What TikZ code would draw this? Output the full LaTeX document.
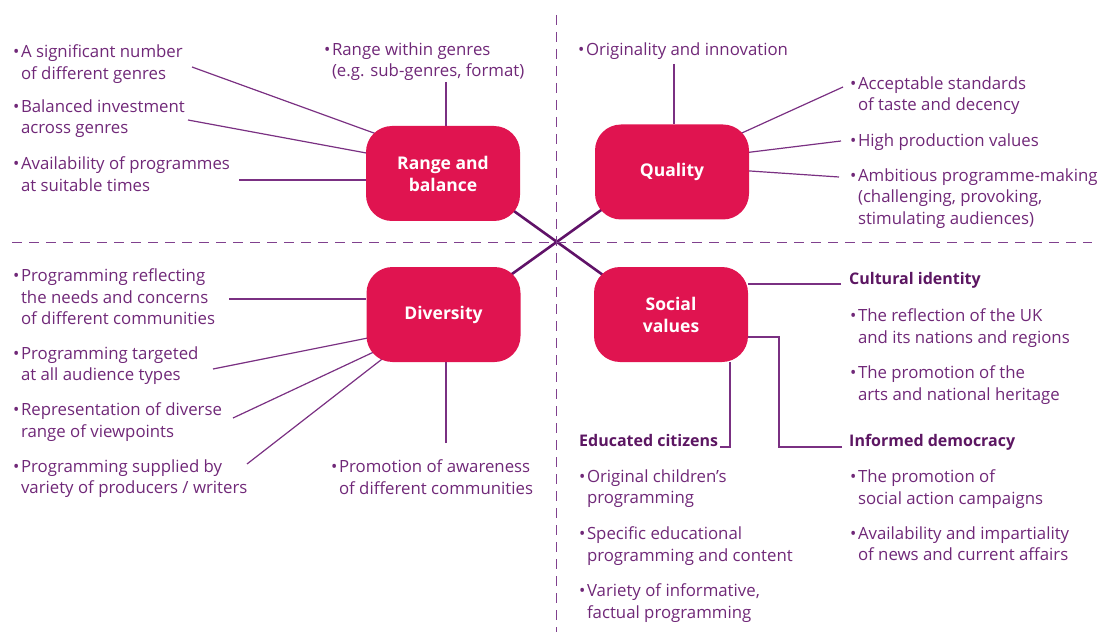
\documentclass[tikz,border=0pt]{standalone}
\usepackage{fontspec}
\setmainfont{Open Sans}
\usetikzlibrary{backgrounds}
\definecolor{boxRed}{RGB}{224,20,80}
\definecolor{textPurple}{RGB}{112,40,120}
\definecolor{headPurple}{RGB}{92,22,98}
\definecolor{linePurple}{RGB}{122,48,130}
\definecolor{crossPurple}{RGB}{96,18,104}
\definecolor{dashPurple}{RGB}{128,64,142}
\tikzstyle{diagram} = [x = 1pt, y = -1pt]
\tikzstyle{themeBox} = [fill=boxRed, rounded corners = 26pt, minimum width = 154pt, minimum height = 95pt, inner sep = 0, text=white, align=center, font=\bfseries\fontsize{17.5}{22}\selectfont]
\tikzstyle{pointText} = [anchor=north west, inner sep = 0, align=left, text=textPurple, font=\fontsize{16.8}{21.5}\selectfont]
\tikzstyle{headText} = [pointText, text=headPurple, font=\bfseries\fontsize{16}{21.5}\selectfont]
\tikzstyle{leaderLine} = [color=linePurple, line width = 1.2pt]
\tikzstyle{crossLine} = [color=crossPurple, line width = 2.6pt]
\tikzstyle{quadrantLine} = [color=dashPurple, line width = 1.4pt, dash pattern = on 10pt off 7pt]
\newcommand{\bul}{\textbullet\kern1.5pt}
\newcommand{\ind}{\hphantom{\bul}}
\newcommand{\point}[4]{\node [pointText] (#1) at (#2,#3) {\bul#4};}

\begin{document}
\begin{tikzpicture}[diagram]
  \useasboundingbox (0,0) rectangle (1100,639);

  % quadrants
  \draw [quadrantLine] (556.5,15) -- (556.5,632);
  \draw [quadrantLine] (12,242.5) -- (1092,242.5);

  % the four themes
  \node [themeBox] (range) at (443,173.5) {Range and\\balance};
  \node [themeBox] (quality) at (672,172) {Quality};
  \node [themeBox] (diversity) at (443.5,314.5) {Diversity};
  \node [themeBox] (social) at (671,314.5) {Social\\values};

  % range and balance
  \point{sig}{13}{44.5}{A significant number\\\ind of different genres}
  \point{bal}{13}{99.5}{Balanced investment\\\ind across genres}
  \point{avail}{13}{156.5}{Availability of programmes\\\ind at suitable times}
  \point{within}{324}{42.5}{Range within genres\\\ind (e.g. sub-genres, format)}

  % quality
  \point{orig}{578}{42.5}{Originality and innovation}
  \point{accept}{850}{76.5}{Acceptable standards\\\ind of taste and decency}
  \point{high}{850}{133.5}{High production values}
  \point{ambit}{850}{168.5}{Ambitious programme-making\\\ind (challenging, provoking,\\\ind stimulating audiences)}

  % diversity
  \point{reflect}{13}{268.5}{Programming reflecting\\\ind the needs and concerns\\\ind of different communities}
  \point{target}{13}{346.5}{Programming targeted\\\ind at all audience types}
  \point{repr}{13}{402.5}{Representation of diverse\\\ind range of viewpoints}
  \point{supply}{13}{459.5}{Programming supplied by\\\ind variety of producers / writers}
  \point{aware}{331}{459.5}{Promotion of awareness\\\ind of different communities}

  % social values
  \node [headText] (cultural) at (849,272.5) {Cultural identity};
  \point{nation}{850}{308.5}{The reflection of the UK\\\ind and its nations and regions}
  \point{arts}{850}{365.5}{The promotion of the\\\ind arts and national heritage}
  \node [headText] (informed) at (849,434.5) {Informed democracy};
  \point{campaign}{850}{469.5}{The promotion of\\\ind social action campaigns}
  \point{news}{850}{526.5}{Availability and impartiality\\\ind of news and current affairs}
  \node [headText] (educated) at (579,434.5) {Educated citizens};
  \point{child}{579}{469.5}{Original children's\\\ind programming}
  \point{edu}{579}{526.5}{Specific educational\\\ind programming and content}
  \point{factual}{579}{583.5}{Variety of informative,\\\ind factual programming}

  % loose ends of the leader lines
  \coordinate (sigEnd) at (192,67);
  \coordinate (balEnd) at (188,120);
  \coordinate (availEnd) at (239,180);
  \coordinate (withinEnd) at (446,82);
  \coordinate (origEnd) at (674,64);
  \coordinate (acceptEnd) at (843,87);
  \coordinate (highEnd) at (841,141);
  \coordinate (ambitEnd) at (839,177);
  \coordinate (reflectEnd) at (229,299);
  \coordinate (targetEnd) at (213,369);
  \coordinate (reprEnd) at (233,418);
  \coordinate (supplyEnd) at (247,464);
  \coordinate (awareEnd) at (446,443);
  \coordinate (culturalEnd) at (841,284);
  \coordinate (informedEnd) at (842,447);
  \coordinate (informedTurn) at (779,337);
  \coordinate (educatedEnd) at (720,447);

  \begin{scope}[on background layer]
    \draw [crossLine] ([shift={(-20,-20)}]range.south east) -- ([shift={(20,16)}]social.north west);
    \draw [crossLine] ([shift={(-21,16)}]diversity.north east) -- ([shift={(18,-18)}]quality.south west);

    \draw [leaderLine] (sigEnd) -- ([shift={(24,13)}]range.north west);
    \draw [leaderLine] (balEnd) -- ([shift={(14,-18)}]range.west);
    \draw [leaderLine] (availEnd) -- (availEnd -| range.west);
    \draw [leaderLine] (withinEnd) -- (withinEnd |- range.north);

    \draw [leaderLine] (origEnd) -- (origEnd |- quality.north);
    \draw [leaderLine] (acceptEnd) -- ([shift={(-19,14)}]quality.north east);
    \draw [leaderLine] (highEnd) -- ([shift={(-14,-18)}]quality.east);
    \draw [leaderLine] (ambitEnd) -- ([shift={(-14,-2)}]quality.east);

    \draw [leaderLine] (reflectEnd) -- (reflectEnd -| diversity.west);
    \draw [leaderLine] (targetEnd) -- ([shift={(14,21)}]diversity.west);
    \draw [leaderLine] (reprEnd) -- ([shift={(19,-15.6)}]diversity.south west);
    \draw [leaderLine] (supplyEnd) -- ([shift={(29,-13.4)}]diversity.south west);
    \draw [leaderLine] (awareEnd) -- (awareEnd |- diversity.south);

    \draw [leaderLine] (culturalEnd) -- (culturalEnd -| social.east);
    \draw [leaderLine] (informedEnd) -| (informedTurn) -- (informedTurn -| social.east);
    \draw [leaderLine] (educatedEnd) -| ([xshift=59pt]social.south);
  \end{scope}
\end{tikzpicture}
\end{document}
